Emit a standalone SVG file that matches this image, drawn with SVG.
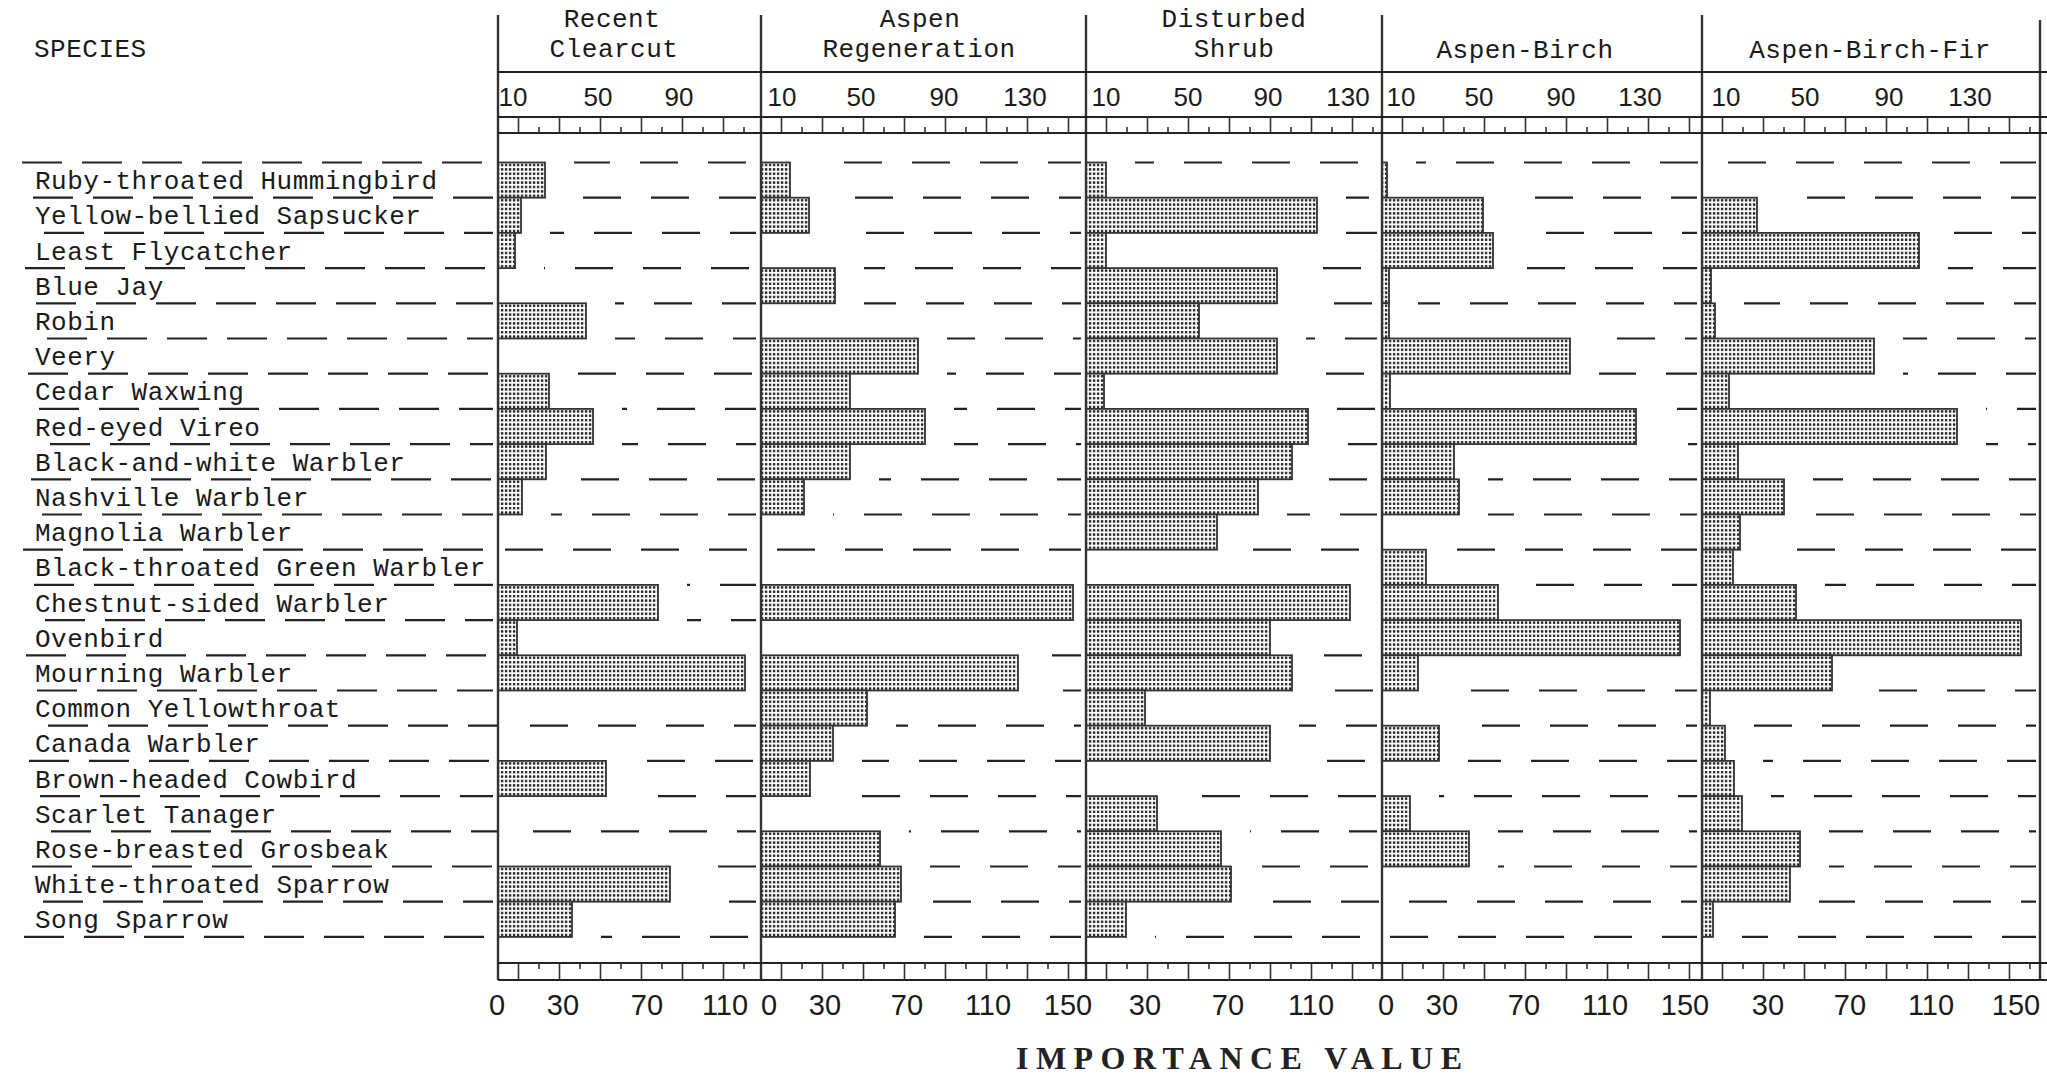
<svg xmlns="http://www.w3.org/2000/svg" xmlns:xlink="http://www.w3.org/1999/xlink" width="2047" height="1076" viewBox="0 0 2047 1076">
<style>
.lbl{font-family:"Liberation Mono","DejaVu Sans Mono",monospace;font-size:26px;letter-spacing:0.5px;fill:#1a1a1a}
.ttl{text-anchor:middle}
.num{font-family:"Liberation Sans",Arial,sans-serif;font-size:26px;fill:#1a1a1a;text-anchor:middle}
.bnum{font-size:29px}
.rule{stroke:#222;stroke-width:2;fill:none}
.vline{stroke:#333;stroke-width:2.4;fill:none}
.tick{stroke:#333;stroke-width:1.6;fill:none}
.dl{stroke:#222;stroke-width:2.2;fill:none;stroke-dasharray:40 20}
.dp{stroke:#222;stroke-width:2.2;fill:none;stroke-dasharray:38 30}
.imp{font-family:"Liberation Serif","Times New Roman",serif;font-size:32px;font-weight:bold;fill:#222;text-anchor:middle}
</style>
<defs>
<pattern id="dots" width="4" height="4.4" patternUnits="userSpaceOnUse">
<rect width="4" height="4.4" fill="#fff"/>
<rect x="0.9" y="1" width="2.4" height="2.4" fill="#222"/>
</pattern>
</defs>
<rect width="2047" height="1076" fill="#fff"/>

<g id="header">
<text class="lbl" x="34" y="57">SPECIES</text>
<text class="lbl ttl" x="612" y="27">Recent</text>
<text class="lbl ttl" x="614" y="57">Clearcut</text>
<text class="lbl ttl" x="920" y="27">Aspen</text>
<text class="lbl ttl" x="919" y="57">Regeneration</text>
<text class="lbl ttl" x="1234" y="27">Disturbed</text>
<text class="lbl ttl" x="1234" y="57">Shrub</text>
<text class="lbl ttl" x="1525" y="58">Aspen-Birch</text>
<text class="lbl ttl" x="1870" y="58">Aspen-Birch-Fir</text>
</g>

<g id="species-labels">
<text class="lbl" x="35" y="189.2">Ruby-throated Hummingbird</text>
<text class="lbl" x="35" y="224.4">Yellow-bellied Sapsucker</text>
<text class="lbl" x="35" y="259.6">Least Flycatcher</text>
<text class="lbl" x="35" y="294.8">Blue Jay</text>
<text class="lbl" x="35" y="330">Robin</text>
<text class="lbl" x="35" y="365.2">Veery</text>
<text class="lbl" x="35" y="400.4">Cedar Waxwing</text>
<text class="lbl" x="35" y="435.6">Red-eyed Vireo</text>
<text class="lbl" x="35" y="470.8">Black-and-white Warbler</text>
<text class="lbl" x="35" y="506">Nashville Warbler</text>
<text class="lbl" x="35" y="541.2">Magnolia Warbler</text>
<text class="lbl" x="35" y="576.4">Black-throated Green Warbler</text>
<text class="lbl" x="35" y="611.6">Chestnut-sided Warbler</text>
<text class="lbl" x="35" y="646.8">Ovenbird</text>
<text class="lbl" x="35" y="682">Mourning Warbler</text>
<text class="lbl" x="35" y="717.2">Common Yellowthroat</text>
<text class="lbl" x="35" y="752.4">Canada Warbler</text>
<text class="lbl" x="35" y="787.6">Brown-headed Cowbird</text>
<text class="lbl" x="35" y="822.8">Scarlet Tanager</text>
<text class="lbl" x="35" y="858">Rose-breasted Grosbeak</text>
<text class="lbl" x="35" y="893.2">White-throated Sparrow</text>
<text class="lbl" x="35" y="928.4">Song Sparrow</text>
</g>

<g id="connectors">
<path class="dl" d="M22 162.5H497M33 197.7H497M44 232.9H497M25 268.1H497M36 303.3H497M47 338.5H497M28 373.7H497M39 408.9H497M50 444.1H497M31 479.3H497M42 514.5H497M23 549.7H497M34 584.9H497M45 620.1H497M26 655.3H497M37 690.5H497M48 725.7H497M29 760.9H497M40 796.1H497M51 831.3H497M32 866.5H497M43 901.7H497M24 936.9H497"/>
<path class="dp" d="M504 162.5H2036M515 197.7H2036M526 232.9H2036M507 268.1H2036M518 303.3H2036M529 338.5H2036M510 373.7H2036M521 408.9H2036M532 444.1H2036M513 479.3H2036M524 514.5H2036M505 549.7H2036M516 584.9H2036M527 620.1H2036M508 655.3H2036M519 690.5H2036M530 725.7H2036M511 760.9H2036M522 796.1H2036M533 831.3H2036M514 866.5H2036M525 901.7H2036M506 936.9H2036"/>
</g>

<g id="bar-gaps" fill="#fff" stroke="#fff" stroke-width="10">
<use xlink:href="#rc-bars"/><use xlink:href="#rc-bars" x="8"/><use xlink:href="#rc-bars" x="16"/><use xlink:href="#rc-bars" x="24"/>
<use xlink:href="#ar-bars"/><use xlink:href="#ar-bars" x="8"/><use xlink:href="#ar-bars" x="16"/><use xlink:href="#ar-bars" x="24"/>
<use xlink:href="#ds-bars"/><use xlink:href="#ds-bars" x="8"/><use xlink:href="#ds-bars" x="16"/><use xlink:href="#ds-bars" x="24"/>
<use xlink:href="#ab-bars"/><use xlink:href="#ab-bars" x="8"/><use xlink:href="#ab-bars" x="16"/><use xlink:href="#ab-bars" x="24"/>
<use xlink:href="#abf-bars"/><use xlink:href="#abf-bars" x="8"/><use xlink:href="#abf-bars" x="16"/><use xlink:href="#abf-bars" x="24"/>
</g>

<g id="bars" fill="url(#dots)" stroke="#333" stroke-width="1.8">
<g id="rc-bars">
<rect x="498" y="162.5" width="47" height="35.2"/>
<rect x="498" y="197.7" width="23" height="35.2"/>
<rect x="498" y="232.9" width="17" height="35.2"/>
<rect x="498" y="303.3" width="88" height="35.2"/>
<rect x="498" y="373.7" width="51" height="35.2"/>
<rect x="498" y="408.9" width="95" height="35.2"/>
<rect x="498" y="444.1" width="48" height="35.2"/>
<rect x="498" y="479.3" width="24" height="35.2"/>
<rect x="498" y="584.9" width="160" height="35.2"/>
<rect x="498" y="620.1" width="19" height="35.2"/>
<rect x="498" y="655.3" width="247" height="35.2"/>
<rect x="498" y="760.9" width="108" height="35.2"/>
<rect x="498" y="866.5" width="172" height="35.2"/>
<rect x="498" y="901.7" width="74" height="35.2"/>
</g>
<g id="ar-bars">
<rect x="761" y="162.5" width="29" height="35.2"/>
<rect x="761" y="197.7" width="48" height="35.2"/>
<rect x="761" y="268.1" width="74" height="35.2"/>
<rect x="761" y="338.5" width="157" height="35.2"/>
<rect x="761" y="373.7" width="89" height="35.2"/>
<rect x="761" y="408.9" width="164" height="35.2"/>
<rect x="761" y="444.1" width="89" height="35.2"/>
<rect x="761" y="479.3" width="43" height="35.2"/>
<rect x="761" y="584.9" width="312" height="35.2"/>
<rect x="761" y="655.3" width="257" height="35.2"/>
<rect x="761" y="690.5" width="106" height="35.2"/>
<rect x="761" y="725.7" width="72" height="35.2"/>
<rect x="761" y="760.9" width="49" height="35.2"/>
<rect x="761" y="831.3" width="119" height="35.2"/>
<rect x="761" y="866.5" width="140" height="35.2"/>
<rect x="761" y="901.7" width="134" height="35.2"/>
</g>
<g id="ds-bars">
<rect x="1086" y="162.5" width="20" height="35.2"/>
<rect x="1086" y="197.7" width="231" height="35.2"/>
<rect x="1086" y="232.9" width="20" height="35.2"/>
<rect x="1086" y="268.1" width="191" height="35.2"/>
<rect x="1086" y="303.3" width="113" height="35.2"/>
<rect x="1086" y="338.5" width="191" height="35.2"/>
<rect x="1086" y="373.7" width="18" height="35.2"/>
<rect x="1086" y="408.9" width="222" height="35.2"/>
<rect x="1086" y="444.1" width="206" height="35.2"/>
<rect x="1086" y="479.3" width="172" height="35.2"/>
<rect x="1086" y="514.5" width="131" height="35.2"/>
<rect x="1086" y="584.9" width="264" height="35.2"/>
<rect x="1086" y="620.1" width="184" height="35.2"/>
<rect x="1086" y="655.3" width="206" height="35.2"/>
<rect x="1086" y="690.5" width="59" height="35.2"/>
<rect x="1086" y="725.7" width="184" height="35.2"/>
<rect x="1086" y="796.1" width="71" height="35.2"/>
<rect x="1086" y="831.3" width="135" height="35.2"/>
<rect x="1086" y="866.5" width="145" height="35.2"/>
<rect x="1086" y="901.7" width="40" height="35.2"/>
</g>
<g id="ab-bars">
<rect x="1382" y="162.5" width="5" height="35.2"/>
<rect x="1382" y="197.7" width="101" height="35.2"/>
<rect x="1382" y="232.9" width="111" height="35.2"/>
<rect x="1382" y="268.1" width="7" height="35.2"/>
<rect x="1382" y="303.3" width="7" height="35.2"/>
<rect x="1382" y="338.5" width="188" height="35.2"/>
<rect x="1382" y="373.7" width="8" height="35.2"/>
<rect x="1382" y="408.9" width="254" height="35.2"/>
<rect x="1382" y="444.1" width="72" height="35.2"/>
<rect x="1382" y="479.3" width="77" height="35.2"/>
<rect x="1382" y="549.7" width="44" height="35.2"/>
<rect x="1382" y="584.9" width="116" height="35.2"/>
<rect x="1382" y="620.1" width="298" height="35.2"/>
<rect x="1382" y="655.3" width="36" height="35.2"/>
<rect x="1382" y="725.7" width="57" height="35.2"/>
<rect x="1382" y="796.1" width="28" height="35.2"/>
<rect x="1382" y="831.3" width="87" height="35.2"/>
</g>
<g id="abf-bars">
<rect x="1702" y="197.7" width="55" height="35.2"/>
<rect x="1702" y="232.9" width="217" height="35.2"/>
<rect x="1702" y="268.1" width="9" height="35.2"/>
<rect x="1702" y="303.3" width="13" height="35.2"/>
<rect x="1702" y="338.5" width="172" height="35.2"/>
<rect x="1702" y="373.7" width="27" height="35.2"/>
<rect x="1702" y="408.9" width="255" height="35.2"/>
<rect x="1702" y="444.1" width="36" height="35.2"/>
<rect x="1702" y="479.3" width="82" height="35.2"/>
<rect x="1702" y="514.5" width="38" height="35.2"/>
<rect x="1702" y="549.7" width="31" height="35.2"/>
<rect x="1702" y="584.9" width="94" height="35.2"/>
<rect x="1702" y="620.1" width="319" height="35.2"/>
<rect x="1702" y="655.3" width="130" height="35.2"/>
<rect x="1702" y="690.5" width="8" height="35.2"/>
<rect x="1702" y="725.7" width="23" height="35.2"/>
<rect x="1702" y="760.9" width="32" height="35.2"/>
<rect x="1702" y="796.1" width="40" height="35.2"/>
<rect x="1702" y="831.3" width="98" height="35.2"/>
<rect x="1702" y="866.5" width="88" height="35.2"/>
<rect x="1702" y="901.7" width="11" height="35.2"/>
</g>
</g>

<g id="frame">
<path class="vline" d="M498 15V980M761 15V980M1086 15V980M1382 15V980M1702 15V980M2040 20V980"/>
<path class="rule" d="M498 72H2047M498 117H2047M498 133H2047M498 963H2047M498 980H2047"/>
<path class="tick" d="M518.5 117V133M559.5 117V133M600.5 117V133M641.5 117V133M682.5 117V133M723.5 117V133M781.5 117V133M822.5 117V133M863.5 117V133M904.5 117V133M945.5 117V133M986.5 117V133M1027.5 117V133M1068.5 117V133M1106.5 117V133M1147.5 117V133M1188.5 117V133M1229.5 117V133M1270.5 117V133M1311.5 117V133M1352.5 117V133M1402.5 117V133M1443.5 117V133M1484.5 117V133M1525.5 117V133M1566.5 117V133M1607.5 117V133M1648.5 117V133M1689.5 117V133M1722.5 117V133M1763.5 117V133M1804.5 117V133M1845.5 117V133M1886.5 117V133M1927.5 117V133M1968.5 117V133M2009.5 117V133"/>
<path class="tick" d="M539 133V127M580 133V127M621 133V127M662 133V127M703 133V127M744 133V127M802 133V127M843 133V127M884 133V127M925 133V127M966 133V127M1007 133V127M1048 133V127M1127 133V127M1168 133V127M1209 133V127M1250 133V127M1291 133V127M1332 133V127M1373 133V127M1423 133V127M1464 133V127M1505 133V127M1546 133V127M1587 133V127M1628 133V127M1669 133V127M1743 133V127M1784 133V127M1825 133V127M1866 133V127M1907 133V127M1948 133V127M1989 133V127M2030 133V127"/>
<path class="tick" d="M518.5 963V980M559.5 963V980M600.5 963V980M641.5 963V980M682.5 963V980M723.5 963V980M781.5 963V980M822.5 963V980M863.5 963V980M904.5 963V980M945.5 963V980M986.5 963V980M1027.5 963V980M1068.5 963V980M1106.5 963V980M1147.5 963V980M1188.5 963V980M1229.5 963V980M1270.5 963V980M1311.5 963V980M1352.5 963V980M1402.5 963V980M1443.5 963V980M1484.5 963V980M1525.5 963V980M1566.5 963V980M1607.5 963V980M1648.5 963V980M1689.5 963V980M1722.5 963V980M1763.5 963V980M1804.5 963V980M1845.5 963V980M1886.5 963V980M1927.5 963V980M1968.5 963V980M2009.5 963V980"/>
<path class="tick" d="M539 963V969M580 963V969M621 963V969M662 963V969M703 963V969M744 963V969M802 963V969M843 963V969M884 963V969M925 963V969M966 963V969M1007 963V969M1048 963V969M1127 963V969M1168 963V969M1209 963V969M1250 963V969M1291 963V969M1332 963V969M1373 963V969M1423 963V969M1464 963V969M1505 963V969M1546 963V969M1587 963V969M1628 963V969M1669 963V969M1743 963V969M1784 963V969M1825 963V969M1866 963V969M1907 963V969M1948 963V969M1989 963V969M2030 963V969"/>
</g>

<g id="top-scale">
<text class="num" x="513" y="106">10</text><text class="num" x="598" y="106">50</text><text class="num" x="679" y="106">90</text>
<text class="num" x="782" y="106">10</text><text class="num" x="861" y="106">50</text><text class="num" x="944" y="106">90</text><text class="num" x="1025" y="106">130</text>
<text class="num" x="1106" y="106">10</text><text class="num" x="1188" y="106">50</text><text class="num" x="1268" y="106">90</text><text class="num" x="1348" y="106">130</text>
<text class="num" x="1401" y="106">10</text><text class="num" x="1479" y="106">50</text><text class="num" x="1561" y="106">90</text><text class="num" x="1640" y="106">130</text>
<text class="num" x="1726" y="106">10</text><text class="num" x="1805" y="106">50</text><text class="num" x="1889" y="106">90</text><text class="num" x="1970" y="106">130</text>
</g>

<g id="bottom-scale">
<text class="num bnum" x="497" y="1015">0</text><text class="num bnum" x="563" y="1015">30</text><text class="num bnum" x="647" y="1015">70</text><text class="num bnum" x="725" y="1015">110</text>
<text class="num bnum" x="769" y="1015">0</text><text class="num bnum" x="825" y="1015">30</text><text class="num bnum" x="907" y="1015">70</text><text class="num bnum" x="988" y="1015">110</text><text class="num bnum" x="1068" y="1015">150</text>
<text class="num bnum" x="1145" y="1015">30</text><text class="num bnum" x="1228" y="1015">70</text><text class="num bnum" x="1311" y="1015">110</text>
<text class="num bnum" x="1386" y="1015">0</text><text class="num bnum" x="1442" y="1015">30</text><text class="num bnum" x="1524" y="1015">70</text><text class="num bnum" x="1605" y="1015">110</text><text class="num bnum" x="1685" y="1015">150</text>
<text class="num bnum" x="1768" y="1015">30</text><text class="num bnum" x="1850" y="1015">70</text><text class="num bnum" x="1931" y="1015">110</text><text class="num bnum" x="2016" y="1015">150</text>
<text class="imp" x="1239" y="1069" textLength="446" lengthAdjust="spacing">IMPORTANCE VALUE</text>
</g>
</svg>
